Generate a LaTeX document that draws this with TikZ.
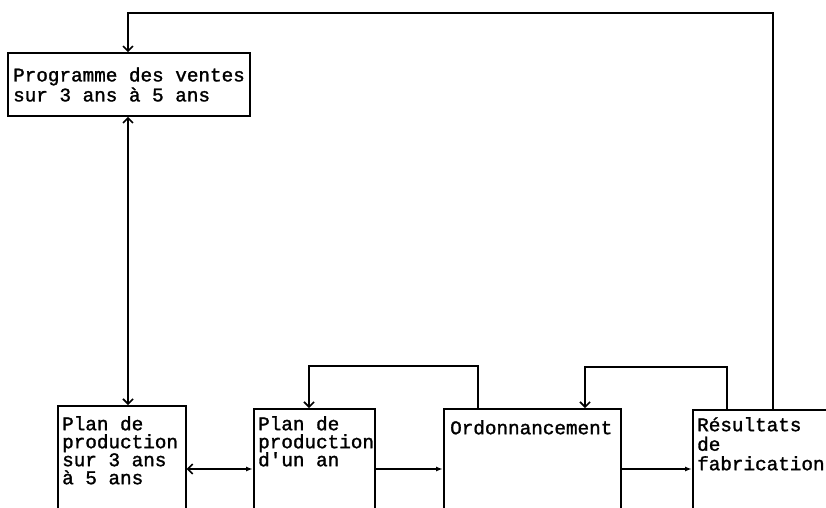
\documentclass[tikz,border=0pt]{standalone}
\usepackage{fontspec}
\setmonofont{Liberation Mono}[FakeBold=1.5]
\usetikzlibrary{arrows.meta}
\tikzset{
  texte/.style={font={\ttfamily\fontsize{19.3}{18}\selectfont}, align=left, inner sep=0pt, anchor=north west},
  cadre/.style={draw, line width=1.6pt, anchor=north west, minimum height=160},
  fleche/.style={line width=1.6pt, -{Straight Barb[length=5pt,width=10pt]}},
  flechep/.style={line width=1.6pt, -{Latex[length=7pt,width=5pt]}}
}
\begin{document}
\begin{tikzpicture}[x=1pt, y=-1pt]
	\useasboundingbox (0,0) rectangle (826,507);
	\clip (0,0) rectangle (826,507);
	% programme
	\node[draw, line width=1.6pt, minimum width=242, minimum height=63, align=left,
	  font={\ttfamily\fontsize{19.3}{20}\selectfont}] (prog) at (129,84.5)
	  {Programme des ventes\\sur 3 ans à 5 ans};
	% boites du bas
	\node[cadre, minimum width=128] (plan3) at (57,405) {};
	\node[cadre, minimum width=121] (plan1) at (253,408) {};
	\node[cadre, minimum width=177] (ordo) at (443,408) {};
	\node[cadre, minimum width=170] (res) at (692,409) {};
	\node[texte] (plan3t) at (62,416) {Plan de\\production\\sur 3 ans\\à 5 ans};
	\node[texte] (plan1t) at (258,416) {Plan de\\production\\d'un an};
	\node[texte] (ordot) at (450,420) {Ordonnancement};
	\node[texte, font={\ttfamily\fontsize{19.3}{19.5}\selectfont}] (rest) at (697,417) {Résultats\\de\\fabrication};
	% points de passage
	\coordinate (haut) at (773,13);
	\coordinate (b1) at (478,366);
	\coordinate (b1g) at (309,366);
	\coordinate (b2) at (727,367);
	\coordinate (b2g) at (585,367);
	\coordinate (ligne) at (0,469);
	% liaisons
	\draw[fleche] (res.north -| haut) -- (haut) -| ([xshift=-1]prog.north);
	\draw[fleche] (ordo.north -| b1) -- (b1) -- (b1g) -- (plan1.north -| b1g);
	\draw[fleche] (res.north -| b2) -- (b2) -- (b2g) -- (ordo.north -| b2g);
	\draw[fleche, {Straight Barb[length=5pt,width=10pt]}-{Straight Barb[length=5pt,width=10pt]}]
	  ([xshift=-1]prog.south) -- ([xshift=-1]prog.south |- plan3.north);
	\draw[line width=1.6pt, {Straight Barb[length=5pt,width=10pt]}-{Latex[length=7pt,width=5pt]}]
	  (plan3.east |- ligne) -- (plan1.west |- ligne);
	\draw[flechep] (plan1.east |- ligne) -- (ordo.west |- ligne);
	\draw[flechep] (ordo.east |- ligne) -- (res.west |- ligne);
\end{tikzpicture}
\end{document}
